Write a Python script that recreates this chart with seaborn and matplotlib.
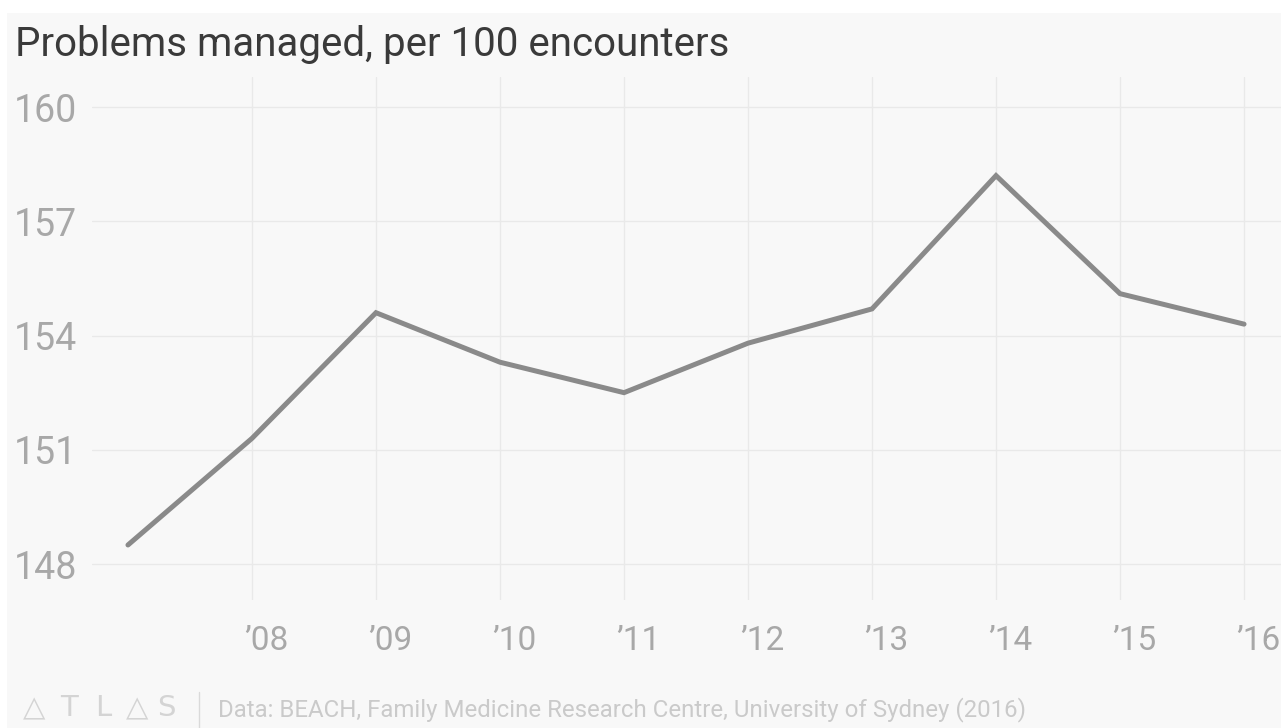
import matplotlib
matplotlib.use("Agg")
import matplotlib.pyplot as plt
import matplotlib.transforms as mtrans
import seaborn as sns
import pandas as pd
from matplotlib.patches import Rectangle

years = [2007, 2008, 2009, 2010, 2011, 2012, 2013, 2014, 2015, 2016]
problems = [148.5, 151.3, 154.6, 153.3, 152.5, 153.8, 154.7, 158.2, 155.1, 154.3]
xtick_years = [2008, 2009, 2010, 2011, 2012, 2013, 2014, 2015, 2016]
xtick_labels = ["\u201908", "\u201909", "\u201910", "\u201911", "\u201912", "\u201913", "\u201914", "\u201915", "\u201916"]
ytick_values = [148, 151, 154, 157, 160]
title = "Problems managed, per 100 encounters"
source = "Data: BEACH, Family Medicine Research Centre, University of Sydney (2016)"
logo_letters = ["\u25b3", "T", "L", "\u25b3", "S"]

sns.set_theme(style="white")
plt.rcParams["font.family"] = ["Roboto", "DejaVu Sans"]

BG = "#f8f8f8"
W, H = 1281, 728
fig = plt.figure(figsize=(W / 100, H / 100), dpi=100, facecolor="white")
fig.patches.append(Rectangle((7 / W, 0), 1 - 7 / W, 1 - 13 / H,
                             transform=fig.transFigure, facecolor=BG,
                             edgecolor="none", zorder=-10))

left, right, top, bottom = 92, 1281, 77, 600
ax = fig.add_axes([left / W, 1 - bottom / H, (right - left) / W, (bottom - top) / H])
ax.set_facecolor(BG)

df = pd.DataFrame({"year": years, "value": problems})
sns.lineplot(data=df, x="year", y="value", ax=ax, color="#8a8a8a", linewidth=3.6,
             solid_capstyle="round", solid_joinstyle="miter")

ax.set_xlim(2006.71, 2016.298)
ax.set_ylim(147.055, 160.79)
ax.set_xticks(xtick_years)
ax.set_xticklabels(xtick_labels)
ax.set_yticks(ytick_values)
ax.set_yticklabels([str(v) for v in ytick_values])
ax.set_xlabel("")
ax.set_ylabel("")
for s in ax.spines.values():
    s.set_visible(False)
ax.grid(True, color="#e9e9e9", linewidth=1.0)
ax.set_axisbelow(True)
ax.tick_params(axis="both", length=0, labelcolor="#a8a8a8")
ax.tick_params(axis="y", pad=11, labelsize=27)
ax.tick_params(axis="x", pad=18, labelsize=24)
shift = mtrans.ScaledTranslation(-8 / 100, 0, fig.dpi_scale_trans)
for lab in ax.get_xticklabels():
    lab.set_horizontalalignment("left")
    lab.set_transform(lab.get_transform() + shift)

fig.text(15 / W, 1 - 44 / H, title, ha="left", va="center", fontsize=29,
         color="#3a3a3a")
logo_x = [34, 69, 103, 137, 166]
for ch, xp in zip(logo_letters, logo_x):
    fig.text(xp / W, 1 - 708 / H, ch, ha="center", va="center", fontsize=21,
             color="#d4d4d4", family=["DejaVu Sans"])
fig.add_artist(plt.Line2D([199 / W, 199 / W], [0, 1 - 692 / H],
                          transform=fig.transFigure, color="#dadada", linewidth=1))
fig.text(218 / W, 1 - 710 / H, source, ha="left", va="center", fontsize=17.3,
         color="#cacaca")

fig.savefig("out.png", dpi=100, facecolor="white")
